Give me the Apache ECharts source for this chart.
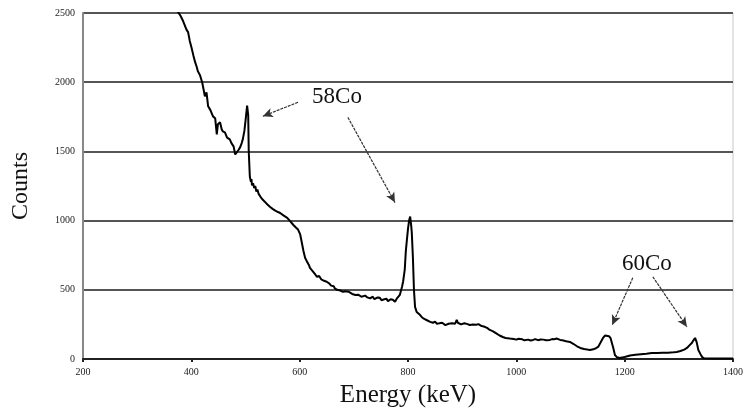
<!DOCTYPE html>
<html>
<head>
<meta charset="utf-8">
<script src="https://cdn.jsdelivr.net/npm/echarts@6/dist/echarts.min.js"></script>
<style>
  html, body { margin: 0; padding: 0; background: #fff; }
  #chart { width: 747px; height: 412px; }
</style>
</head>
<body>
<div id="chart"></div>
<script>
// energy (keV) and counts
var energy = [375, 380, 385, 388, 391, 394, 397, 401, 404, 407, 410, 412, 416, 420, 422, 425, 428, 431, 435, 440,
  444, 447, 449, 453, 456, 458, 462, 466, 471, 474, 478, 481, 484, 487, 490, 493, 495, 498, 500, 503,
  505, 506, 508, 510, 511, 512, 514, 516, 518, 520, 522, 524, 526, 528, 530, 532, 534, 536, 538, 540,
  543, 545, 548, 550, 553, 555, 558, 560, 562, 564, 567, 570, 573, 577, 580, 582, 585, 588, 591, 593,
  597, 601, 604, 607, 610, 614, 617, 619, 622, 625, 628, 632, 636, 640, 643, 645, 648, 650, 653, 655,
  658, 660, 663, 665, 669, 672, 675, 678, 680, 684, 687, 690, 693, 697, 700, 703, 705, 708, 710, 714,
  717, 721, 725, 728, 730, 733, 735, 738, 740, 744, 748, 751, 755, 758, 760, 763, 765, 768, 772, 776,
  780, 785, 789, 791, 794, 796, 798, 800, 802, 804, 806, 807, 809, 811, 813, 816, 819, 822, 824, 826,
  828, 830, 833, 835, 838, 841, 844, 846, 848, 850, 853, 855, 858, 860, 863, 866, 869, 872, 875, 878,
  881, 884, 887, 890, 892, 895, 898, 900, 904, 907, 910, 914, 917, 920, 923, 926, 930, 933, 936, 940,
  943, 946, 949, 951, 954, 957, 960, 963, 966, 969, 972, 975, 978, 980, 984, 988, 991, 995, 998, 1000,
  1004, 1007, 1011, 1015, 1018, 1022, 1026, 1031, 1035, 1040, 1045, 1050, 1055, 1062, 1066, 1070, 1074, 1077, 1081, 1085,
  1088, 1092, 1099, 1105, 1112, 1118, 1125, 1131, 1136, 1142, 1147, 1151, 1155, 1160, 1164, 1167, 1171, 1174, 1176, 1179,
  1182, 1186, 1191, 1200, 1210, 1220, 1230, 1240, 1250, 1260, 1270, 1280, 1290, 1296, 1303, 1310, 1315, 1320, 1324, 1327,
  1330, 1333, 1336, 1340, 1343, 1347, 1360, 1380, 1400];
var counts = [2510, 2480, 2440, 2435, 2380, 2362, 2300, 2239, 2190, 2145, 2110, 2080, 2050, 2000, 1960, 1898, 1927, 1826, 1800, 1753,
  1740, 1623, 1696, 1710, 1660, 1645, 1638, 1600, 1587, 1560, 1536, 1478, 1490, 1510, 1529, 1560, 1587, 1650, 1720, 1830,
  1760, 1500, 1319, 1280, 1300, 1255, 1270, 1235, 1250, 1210, 1225, 1195, 1205, 1170, 1180, 1150, 1160, 1135, 1145, 1118,
  1125, 1100, 1105, 1085, 1095, 1072, 1080, 1062, 1070, 1055, 1060, 1038, 1045, 1020, 1025, 998, 990, 970, 960, 950,
  935, 900, 840, 780, 732, 700, 680, 659, 645, 630, 615, 594, 600, 575, 585, 565, 572, 558, 548, 545,
  530, 520, 525, 510, 500, 505, 495, 488, 485, 490, 480, 486, 478, 470, 470, 462, 460, 465, 455, 450,
  449, 458, 445, 440, 438, 452, 450, 432, 432, 445, 442, 425, 430, 440, 436, 418, 420, 432, 428, 413,
  440, 464, 522, 560, 645, 780, 862, 940, 1000, 1029, 960, 913, 739, 500, 377, 340, 330, 319, 330, 300,
  312, 290, 295, 280, 285, 268, 275, 262, 268, 270, 255, 262, 258, 250, 262, 250, 245, 246, 255, 250,
  258, 262, 255, 283, 262, 260, 250, 255, 258, 250, 252, 246, 256, 250, 245, 248, 252, 246, 238, 235,
  232, 225, 218, 210, 205, 200, 192, 185, 178, 170, 165, 159, 155, 152, 150, 148, 145, 145, 142, 140,
  146, 138, 142, 135, 139, 140, 134, 138, 144, 136, 141, 140, 135, 138, 144, 142, 148, 145, 138, 135,
  132, 128, 123, 110, 92, 80, 72, 68, 65, 70, 78, 87, 115, 152, 170, 174, 165, 150, 138, 80,
  29, 12, 7, 15, 25, 30, 35, 38, 43, 44, 45, 46, 48, 51, 58, 68, 80, 100, 116, 135,
  152, 120, 65, 35, 14, 5, 4, 3, 3];

var xTicks = [200, 400, 600, 800, 1000, 1200, 1400];
var yTicks = [0, 500, 1000, 1500, 2000, 2500];

var chart = echarts.init(document.getElementById('chart'));

var serif = '"Liberation Serif", "DejaVu Serif", serif';

function arrow(from, to) {
  return [
    { coord: from, symbol: 'none' },
    { coord: to, symbol: 'arrow', symbolSize: [7, 10] }
  ];
}

chart.setOption({
  animation: false,
  grid: {
    left: 83, right: 14, top: 13, bottom: 53,
    outerBoundsMode: 'none',
    show: true,
    borderColor: '#c8c8c8',
    borderWidth: 1
  },
  xAxis: {
    type: 'value',
    min: xTicks[0],
    max: xTicks[xTicks.length - 1],
    interval: 200,
    name: 'Energy (keV)',
    nameLocation: 'middle',
    nameGap: 24,
    nameTextStyle: { fontFamily: serif, fontSize: 25, color: '#111' },
    axisLine: { lineStyle: { color: '#222', width: 2 } },
    axisTick: { show: true, length: 3, lineStyle: { color: '#222', width: 2 } },
    axisLabel: { fontFamily: serif, fontSize: 10, color: '#222', margin: 8, formatter: function (v) { return String(v); } },
    splitLine: { show: false }
  },
  yAxis: {
    type: 'value',
    min: yTicks[0],
    max: yTicks[yTicks.length - 1],
    interval: 500,
    name: 'Counts',
    nameLocation: 'middle',
    nameGap: 50,
    nameTextStyle: { fontFamily: serif, fontSize: 24, color: '#111' },
    axisLine: { show: true, lineStyle: { color: '#888', width: 2 } },
    axisTick: { show: false },
    axisLabel: { fontFamily: serif, fontSize: 10, color: '#222', margin: 8, formatter: function (v) { return String(v); } },
    splitLine: { lineStyle: { color: '#555', width: 2 } }
  },
  series: [{
    type: 'line',
    data: energy.map(function (e, i) { return [e, counts[i]]; }),
    showSymbol: false,
    lineStyle: { color: '#000', width: 2 },
    markLine: {
      silent: true,
      animation: false,
      label: { show: false },
      lineStyle: { color: '#333', width: 1.2, type: [3, 1] },
      data: [
        arrow([597, 1855], [532, 1754]),
        arrow([689, 1746], [776, 1130]),
        arrow([1215, 587], [1177, 246]),
        arrow([1252, 594], [1315, 232])
      ]
    },
    markPoint: {
      silent: true,
      symbol: 'circle',
      symbolSize: 0,
      label: { show: true, fontFamily: serif, fontSize: 23, color: '#111', position: 'inside' },
      data: [
        { coord: [669, 1890], value: '58Co', label: { formatter: '58Co' } },
        { coord: [1241, 690], value: '60Co', label: { formatter: '60Co' } }
      ]
    }
  }]
});
</script>
</body>
</html>
